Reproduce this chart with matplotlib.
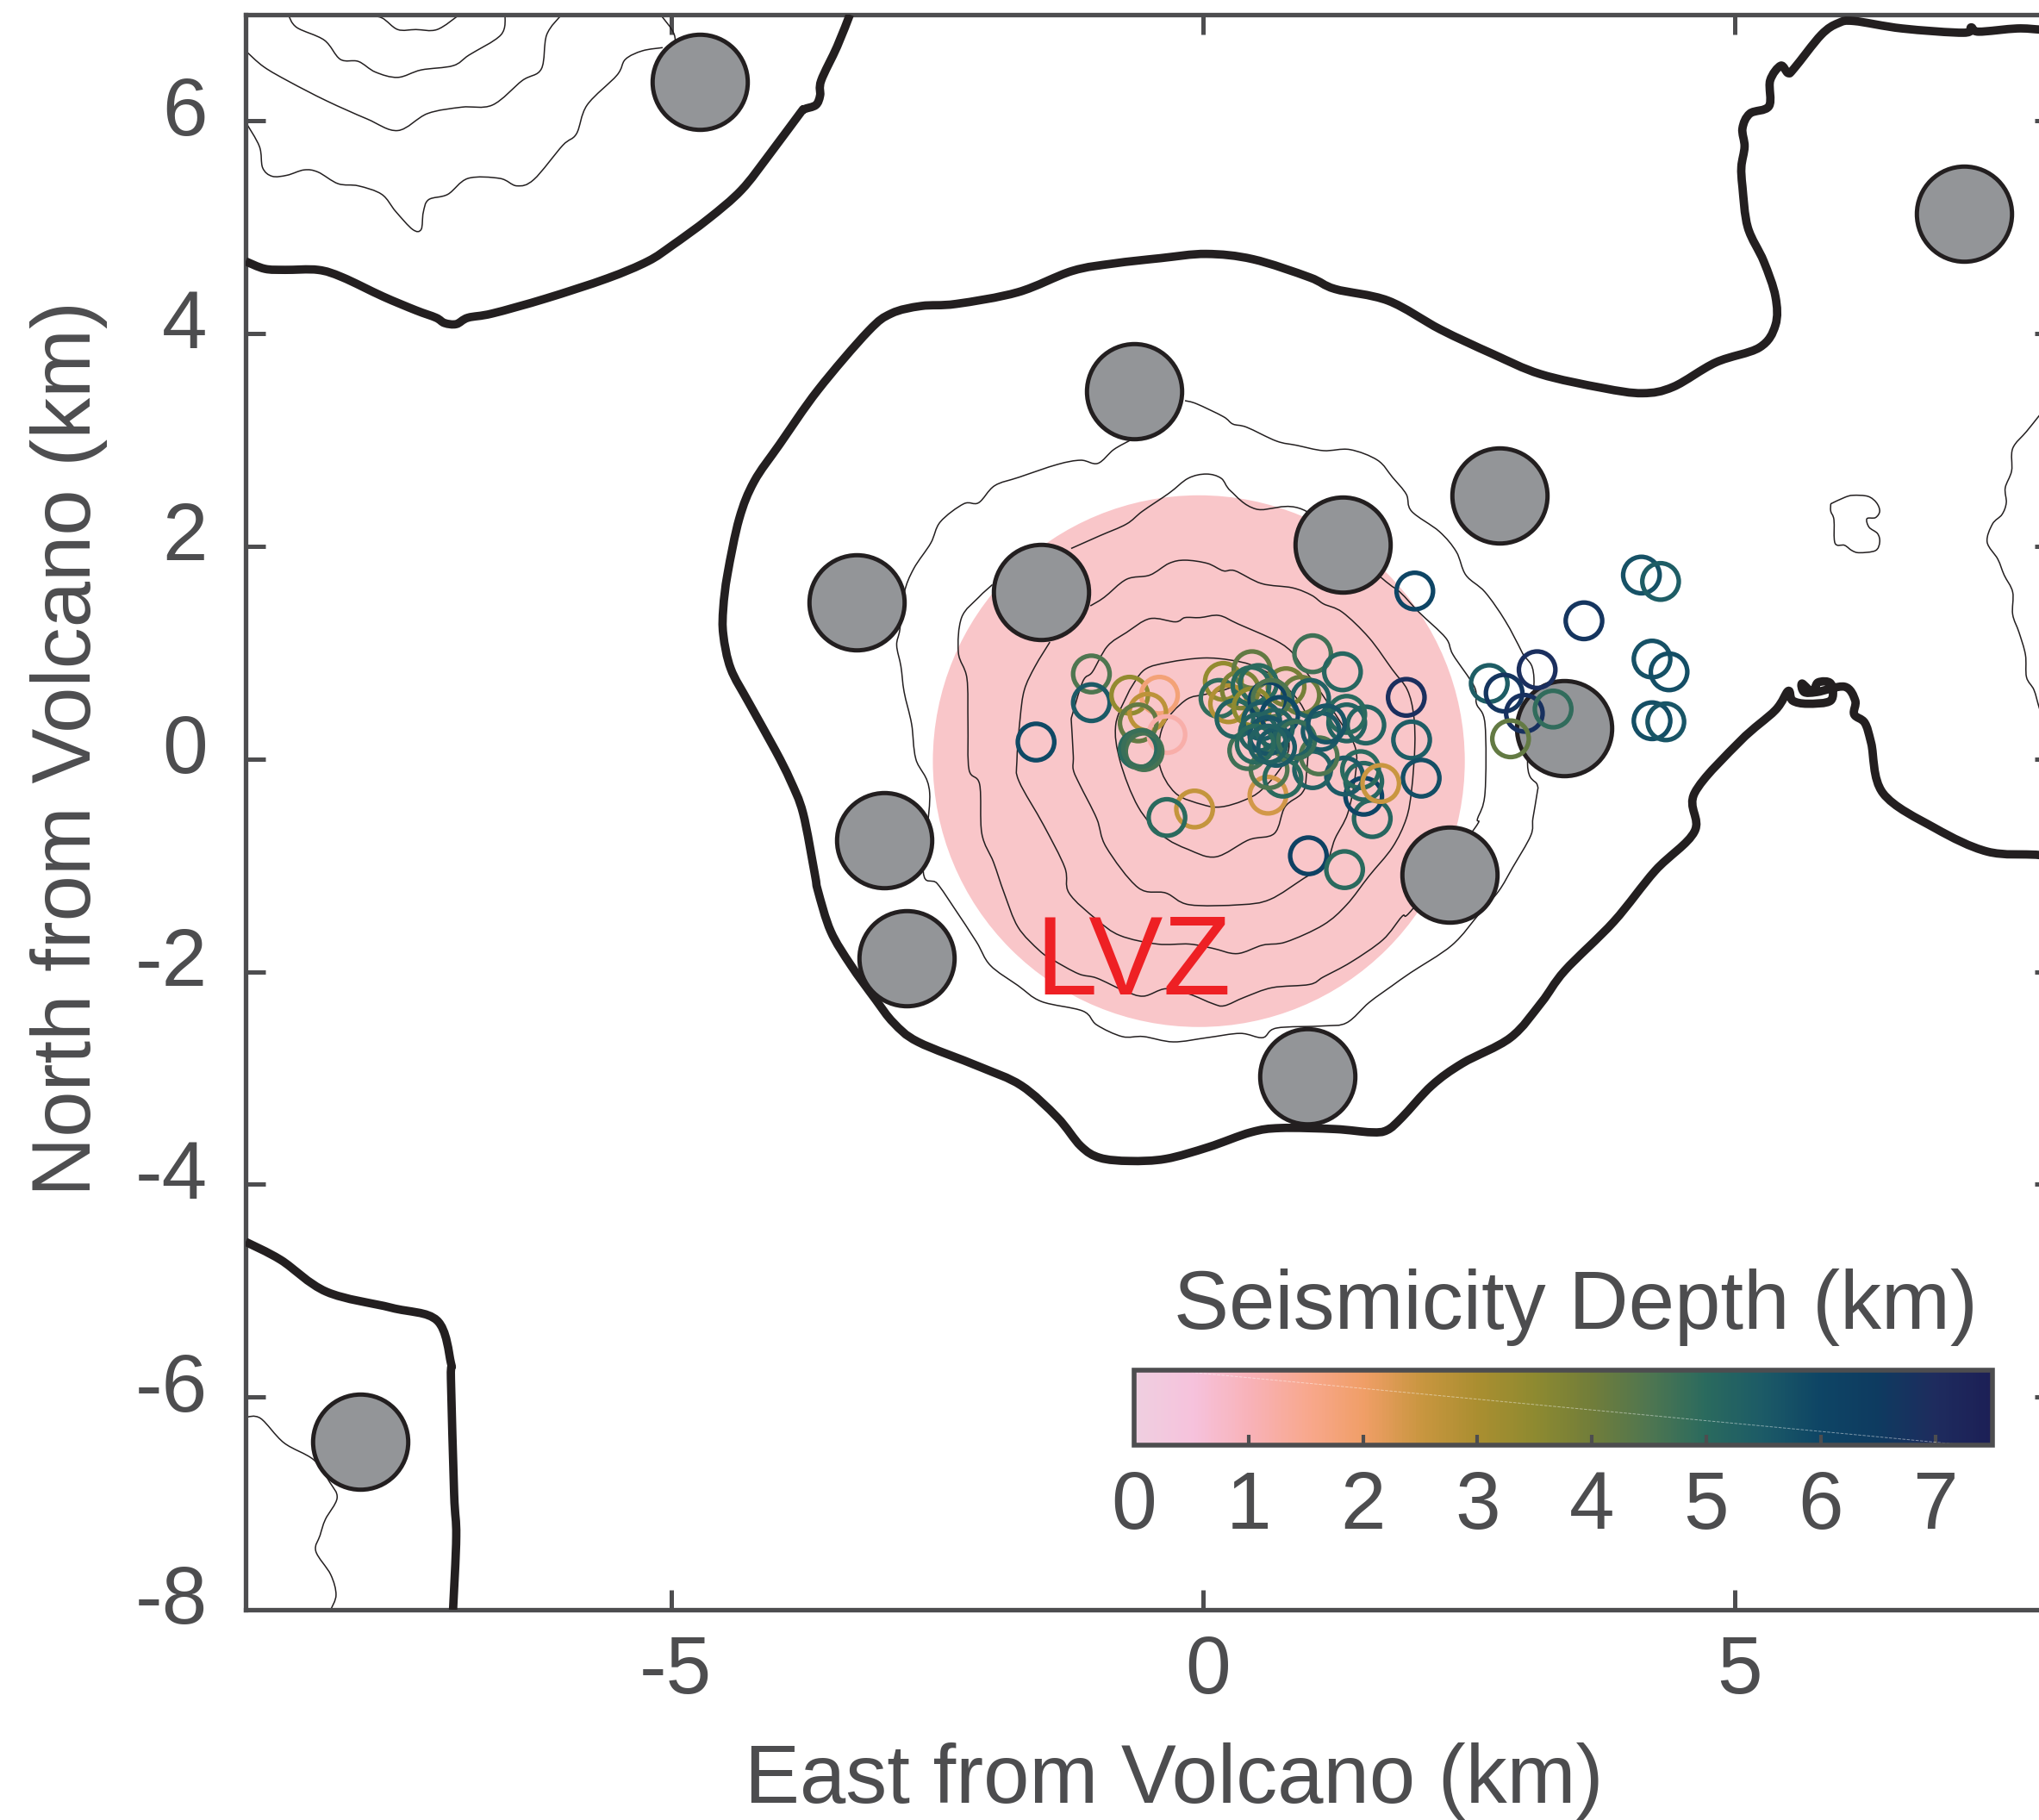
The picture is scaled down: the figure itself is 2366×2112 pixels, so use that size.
import matplotlib
matplotlib.use("Agg")
import matplotlib.pyplot as plt
from matplotlib.cm import ScalarMappable
from matplotlib.colors import LinearSegmentedColormap, Normalize
from matplotlib.patches import Circle, PathPatch
from matplotlib.path import Path
from matplotlib.transforms import ScaledTranslation

plt.rcParams["font.family"] = ["Liberation Sans", "DejaVu Sans"]
plt.rcParams["axes.unicode_minus"] = False

# stations (km east, km north)
station_x = [-4.73, 7.15, -0.65, 2.79, 1.31, -1.52, -3.26, 3.39, -3.00, 2.32, -2.79, 0.98, -7.92]
station_y = [6.37, 5.13, 3.46, 2.48, 2.02, 1.57, 1.47, 0.29, -0.76, -1.09, -1.87, -2.98, -6.42]

# seismicity: east, north, depth
event_x = [-1.57, -1.05, -1.05, -0.69, -0.41, -0.52, -0.61, -0.34, -0.61, -0.555, -0.58, -0.08, -0.34,
           0.61, 1.03, 1.31, 1.91, 1.96, 2.05, 1.99, 0.99, 1.33, 1.59, 1.51, 1.51, 1.48, 1.33, 1.53, 1.35,
           1.35, 1.03, 1.09, 1.11, 0.75, 0.62, 0.42, 0.92, 0.78, 1.01, 0.19, 0.46, 0.15, 0.24, 0.35, 0.30,
           0.45, 0.52, 0.46, 0.61, 0.64, 0.55, 0.72, 0.52, 0.67, 0.61, 0.84, 0.88, 1.16, 0.49, 0.69, 0.61,
           1.67, 2.69, 2.83, 3.14, 3.02, 3.29, 2.89, 3.58, 4.12, 4.30, 4.22, 4.38, 4.22, 4.35]
event_y = [0.16, 0.80, 0.53, 0.60, 0.60, 0.44, 0.34, 0.23, 0.09, 0.07, 0.10, -0.47, -0.55,
           -0.34, 0.99, 0.82, 0.58, 0.18, -0.18, 1.58, -0.91, -1.04, -0.56, -0.35, -0.21, -0.10, -0.16, 0.32, 0.34,
           0.42, -0.10, 0.03, 0.26, -0.18, -0.10, 0.08, 0.60, 0.68, 0.57, 0.73, 0.84, 0.57, 0.52, 0.65, 0.38,
           0.69, 0.71, 0.49, 0.55, 0.57, 0.36, 0.41, 0.25, 0.29, 0.22, 0.19, 0.18, 0.33, 0.14, 0.11, 0.14,
           -0.23, 0.71, 0.62, 0.84, 0.43, 0.47, 0.19, 1.30, 1.73, 1.67, 0.94, 0.82, 0.36, 0.35]
event_depth = [5.9, 4.5, 5.5, 3.4, 1.8, 2.7, 4.2, 1.2, 5.0, 4.6, 4.8, 2.6, 5.0,
               2.4, 4.7, 5.1, 6.9, 5.4, 5.8, 6.0, 6.2, 5.0, 5.1, 6.0, 5.1, 5.0, 5.5, 5.2, 5.2,
               5.0, 5.3, 4.5, 5.5, 5.0, 4.5, 4.7, 4.1, 3.9, 5.3, 3.4, 4.2, 4.9, 2.9, 3.8, 5.2,
               5.0, 5.0, 3.5, 6.1, 4.5, 5.4, 5.9, 5.2, 5.2, 5.6, 5.3, 4.8, 5.6, 5.0, 5.5, 5.3,
               2.5, 5.4, 6.7, 6.9, 6.8, 4.9, 4.2, 6.7, 5.7, 5.4, 5.7, 5.8, 5.8, 5.6]

# thick contours
main_x = [8.00, 7.83, 7.37, 6.88, 6.39, 6.28, 6.22, 6.12, 6.13, 6.03, 5.77, 5.65, 5.63, 5.73, 5.78, 5.90, 5.90, 5.68,
          5.54, 5.50, 5.38, 5.05, 4.62, 4.62, 4.25, 3.86, 3.40, 3.18, 2.89, 2.44, 2.15, 1.87, 1.73, 1.58, 1.24, 0.73, 0.45,
          0.05, -0.35, -0.69, -0.97, -1.15, -1.37, -1.71, -2.11, -2.68, -2.91, -3.08, -3.31, -3.50, -3.62, -3.65, -3.76,
          -3.88, -4.02, -4.27, -4.44, -4.51, -4.51, -4.47, -4.36, -4.22, -3.98, -3.62, -3.15, -2.93, -2.65, -2.32, -1.74,
          -1.23, -0.84, -0.40, 0.03, 0.47, 1.00, 1.24, 1.74, 2.23, 2.72, 3.17, 3.75, 4.13, 4.42, 4.82, 5.23, 5.38, 5.38,
          5.27, 5.12, 5.07, 5.06, 5.09, 5.07, 5.14, 5.32, 5.33, 5.43, 5.50, 5.56, 5.81, 5.97, 6.12, 6.57, 7.15, 7.22, 7.29,
          7.65, 7.86, 8.00]
main_y = [-0.92, -0.90, -0.87, -0.65, -0.32, 0.15, 0.34, 0.42, 0.55, 0.68, 0.63, 0.63, 0.71, 0.63, 0.72, 0.71, 0.55, 0.52,
          0.55, 0.64, 0.46, 0.17, -0.32, -0.68, -1.05, -1.53, -1.99, -2.29, -2.62, -2.86, -3.07, -3.37, -3.49, -3.51, -3.48,
          -3.47, -3.51, -3.65, -3.76, -3.78, -3.75, -3.64, -3.37, -3.07, -2.89, -2.66, -2.48, -2.26, -1.94, -1.62, -1.24,
          -1.08, -0.51, -0.20, 0.08, 0.53, 0.85, 1.17, 1.42, 1.74, 2.26, 2.61, 2.96, 3.47, 4.02, 4.19, 4.26, 4.28, 4.39,
          4.59, 4.66, 4.71, 4.75, 4.70, 4.53, 4.42, 4.31, 4.04, 3.81, 3.62, 3.49, 3.44, 3.50, 3.73, 3.87, 4.08, 4.35,
          4.68, 5.00, 5.38, 5.57, 5.76, 5.93, 6.07, 6.14, 6.38, 6.52, 6.45, 6.50, 6.81, 6.92, 6.94, 6.87, 6.83, 6.88, 6.84,
          6.87, 6.86, 6.85]
topleft_x = [-9.00, -8.82, -8.63, -8.32, -8.09, -7.71, -7.40, -7.21, -7.13, -7.02, -6.91, -6.68, -6.18, -5.60, -5.22,
             -4.99, -4.65, -4.34, -4.08, -3.79, -3.75, -3.64, -3.60, -3.59, -3.44, -3.32]
topleft_y = [4.68, 4.61, 4.60, 4.60, 4.53, 4.35, 4.22, 4.15, 4.10, 4.09, 4.15, 4.19, 4.33, 4.52, 4.68,
             4.83, 5.08, 5.35, 5.68, 6.07, 6.11, 6.15, 6.24, 6.38, 6.70, 7.00]
botleft_x = [-9.00, -8.67, -8.24, -7.63, -7.20, -7.07, -7.07, -7.04, -7.02, -7.05]
botleft_y = [-4.54, -4.71, -5.01, -5.16, -5.28, -5.68, -5.83, -6.91, -7.31, -8.00]

# thin contours
ring1_x = [0.20, 0.03, -0.17, -0.38, -0.41, -0.26, 0.00, 0.17, 0.38, 0.55, 0.75, 0.80, 0.60, 0.35, 0.20]
ring1_y = [0.65, 0.61, 0.55, 0.30, -0.05, -0.32, -0.43, -0.45, -0.39, -0.29, -0.05, 0.20, 0.55, 0.68, 0.65]
ring2_x = [-0.69, -0.55, -0.32, 0.00, 0.26, 0.49, 0.75, 0.98, 0.97, 0.93, 0.77, 0.67, 0.43, 0.12, -0.14, -0.38, -0.61, -0.78, -0.82, -0.69]
ring2_y = [0.65, 0.84, 0.91, 0.95, 0.93, 0.87, 0.71, 0.38, -0.16, -0.32, -0.45, -0.70, -0.76, -0.92, -0.85, -0.72, -0.45, -0.02, 0.33, 0.65]
ring3_x = [-1.24, -1.13, -1.04, -0.90, -0.72, -0.50, -0.26, -0.17, -0.03, 0.15, 0.33, 0.69, 0.84, 0.93, 1.07, 1.27, 1.43, 1.43,
           1.36, 1.24, 1.15, 0.95, 0.63, 0.35, -0.13, -0.35, -0.61, -0.91, -1.00, -1.16, -1.22, -1.22, -1.24]
ring3_y = [0.38, 0.73, 0.82, 1.06, 1.19, 1.32, 1.29, 1.33, 1.33, 1.35, 1.27, 1.11, 1.00, 0.87, 0.68, 0.38, 0.11, -0.16,
           -0.51, -0.75, -0.99, -1.12, -1.32, -1.37, -1.37, -1.26, -1.21, -0.83, -0.56, -0.24, -0.10, 0.03, 0.38]
ring4_x = [-1.44, -1.58, -1.68, -1.72, -1.75, -1.73, -1.50, -1.30, -1.26, -1.00, -0.78, -0.43, -0.13, 0.09, 0.32, 0.56, 0.78,
           1.13, 1.35, 1.56, 1.78, 1.91, 1.96, 1.99, 1.98, 1.92, 1.78, 1.56, 1.31, 1.13, 1.02, 0.84, 0.55, 0.30, 0.19, 0.04, -0.17,
           -0.32, -0.50, -0.72, -0.93, -1.06]
ring4_y = [1.10, 0.87, 0.65, 0.38, -0.02, -0.21, -0.62, -1.02, -1.26, -1.51, -1.66, -1.74, -1.74, -1.78, -1.83, -1.75, -1.72,
           -1.56, -1.37, -1.10, -0.83, -0.56, -0.29, 0.11, 0.41, 0.65, 0.84, 1.14, 1.38, 1.46, 1.54, 1.61, 1.65, 1.77, 1.77, 1.84, 1.87,
           1.84, 1.73, 1.69, 1.52, 1.44]
ring5_x = [-1.98, -2.11, -2.27, -2.30, -2.22, -2.21, -2.20, -2.10, -2.08, -1.97, -1.87, -1.74, -1.54, -1.41, -1.17, -1.00, -0.74, -0.56,
           -0.35, -0.13, 0.09, 0.20, 0.39, 0.65, 1.00, 1.13, 1.39, 1.69, 1.87, 1.97, 2.54, 2.58, 2.65, 2.65, 2.57, 2.55, 2.35, 2.28,
           2.03, 1.85, 1.67, 0.97, 0.50, 0.26, 0.17, 0.03, -0.14, -0.32, -0.57, -0.72, -0.97, -1.24]
ring5_y = [1.64, 1.52, 1.33, 1.00, 0.76, 0.33, -0.10, -0.24, -0.70, -0.97, -1.26, -1.58, -1.80, -1.89, -2.02, -2.06, -2.18, -2.23,
           -2.16, -2.21, -2.30, -2.32, -2.24, -2.15, -2.12, -2.05, -1.91, -1.70, -1.48, -1.41, -0.67, -0.56, -0.32, 0.33, 0.52, 0.68, 0.98, 1.14,
           1.38, 1.57, 1.71, 2.33, 2.35, 2.52, 2.64, 2.68, 2.64, 2.50, 2.33, 2.21, 2.10, 1.98]
ring6_x = [-0.17, -0.06, 0.19, 0.28, 0.41, 0.69, 0.88, 1.13, 1.38, 1.64, 1.78, 1.91, 1.96, 2.22, 2.38, 2.47, 2.65, 2.84, 3.00, 3.11,
           3.05, 3.14, 3.14, 3.10, 3.08, 2.91, 2.78, 2.60, 2.34, 1.95, 1.78, 1.56, 1.35, 1.13, 0.69, 0.56, 0.35, 0.04, -0.28, -0.56, -0.76,
           -1.00, -1.13, -1.52, -1.74, -2.00, -2.13, -2.34, -2.50, -2.63, -2.57, -2.70, -2.74, -2.81, -2.84, -2.88, -2.85, -2.81, -2.72,
           -2.56, -2.47, -2.25, -2.11, -1.96, -1.73, -1.37, -1.15, -0.99, -0.84, -0.68]
ring6_y = [3.37, 3.34, 3.22, 3.15, 3.12, 2.99, 2.95, 2.90, 2.91, 2.81, 2.65, 2.49, 2.33, 2.14, 1.95, 1.73, 1.57, 1.30, 1.00, 0.76,
           -0.05, -0.24, -0.32, -0.56, -0.72, -1.02, -1.24, -1.45, -1.75, -2.01, -2.13, -2.29, -2.48, -2.51, -2.53, -2.62, -2.58, -2.62, -2.66, -2.61, -2.61,
           -2.50, -2.37, -2.28, -2.13, -1.94, -1.72, -1.40, -1.17, -1.06, -0.32, 0.00, 0.33, 0.63, 0.87, 1.07, 1.22, 1.56, 1.79,
           2.03, 2.23, 2.40, 2.41, 2.57, 2.65, 2.77, 2.81, 2.78, 2.91, 3.00]
tl_a_x = [-7.88, -7.72, -7.57, -7.40, -7.20, -6.99]
tl_a_y = [7.00, 6.97, 6.86, 6.86, 6.86, 7.00]
tl_b_x = [-8.60, -8.52, -8.26, -8.11, -7.94, -7.78, -7.57, -7.35, -7.05, -6.90, -6.60, -6.56]
tl_b_y = [7.00, 6.88, 6.76, 6.58, 6.56, 6.46, 6.41, 6.48, 6.52, 6.62, 6.81, 7.00]
tl_c_x = [-9.00, -8.83, -8.59, -8.24, -7.86, -7.57, -7.29, -6.97, -6.68, -6.40, -6.22, -6.17, -6.03]
tl_c_y = [6.66, 6.51, 6.37, 6.19, 6.02, 5.91, 6.07, 6.13, 6.15, 6.38, 6.49, 6.81, 7.00]
tl_d_x = [-9.00, -8.87, -8.84, -8.75, -8.61, -8.45, -8.32, -8.13, -7.94, -7.72, -7.59, -7.43, -7.35, -7.33, -7.28, -7.10,
          -6.91, -6.61, -6.45, -6.29, -6.02, -5.89, -5.79, -5.51, -5.43, -5.27, -5.08]
tl_d_y = [5.99, 5.76, 5.56, 5.48, 5.49, 5.54, 5.52, 5.41, 5.39, 5.31, 5.15, 4.98, 4.98, 5.14, 5.26, 5.31,
          5.46, 5.46, 5.39, 5.45, 5.77, 5.88, 6.15, 6.43, 6.58, 6.66, 6.69]
tl_e_x = [-5.10, -4.97, -4.97]
tl_e_y = [7.00, 6.81, 6.60]
bl_x = [-9.00, -8.86, -8.64, -8.36, -8.21, -8.14, -8.25, -8.30, -8.34, -8.20, -8.15, -8.20]
bl_y = [-6.19, -6.20, -6.43, -6.59, -6.80, -6.95, -7.15, -7.30, -7.45, -7.67, -7.86, -8.00]
loop_x = [5.90, 6.03, 6.11, 6.25, 6.33, 6.36, 6.32, 6.24, 6.26, 6.34, 6.36, 6.32, 6.17, 6.10, 6.03, 5.94, 5.93, 5.90, 5.90]
loop_y = [2.40, 2.46, 2.48, 2.47, 2.41, 2.33, 2.27, 2.26, 2.18, 2.12, 2.04, 1.96, 1.94, 1.96, 2.01, 2.03, 2.25, 2.33, 2.40]
east_x = [7.95, 7.86, 7.74, 7.61, 7.60, 7.54, 7.55, 7.51, 7.42, 7.37, 7.47, 7.53, 7.61, 7.61, 7.67, 7.73, 7.74, 7.81, 7.86, 7.92]
east_y = [3.35, 3.23, 3.08, 2.92, 2.71, 2.55, 2.41, 2.30, 2.21, 2.04, 1.88, 1.73, 1.57, 1.36, 1.19, 0.98, 0.77, 0.65, 0.48, 0.30]

thin_lines = [(ring1_x, ring1_y), (ring2_x, ring2_y), (ring3_x, ring3_y), (ring4_x, ring4_y), (ring5_x, ring5_y),
              (ring6_x, ring6_y), (tl_a_x, tl_a_y), (tl_b_x, tl_b_y), (tl_c_x, tl_c_y), (tl_d_x, tl_d_y),
              (tl_e_x, tl_e_y), (bl_x, bl_y), (loop_x, loop_y), (east_x, east_y)]
thick_lines = [(main_x, main_y), (topleft_x, topleft_y), (botleft_x, botleft_y)]

# colour scale
cmap_depths = [0, 0.5, 1, 1.5, 2, 2.5, 3, 3.5, 4, 4.5, 5, 5.5, 6, 6.5, 7, 7.5]
cmap_colors = ["#EFCFE0", "#F6C2DC", "#F8B2B8", "#F8A88E", "#F09E67", "#C99640", "#AA8E30", "#8E8A30",
               "#717D3A", "#4F7650", "#2A6A5E", "#1C5A66", "#0E4565", "#0E3B60", "#1E2C5E", "#1C1F56"]
cb_ticks = [0, 1, 2, 3, 4, 5, 6, 7]
x_ticks = [-5, 0, 5]
y_ticks = [-8, -6, -4, -2, 0, 2, 4, 6]

W, H = 2366, 2112
GRAY = "#4D4D4F"
DARK = "#231F20"
FS = 68


def smooth(xs, ys):
    # curve through the read points, the contours are not polygons
    pts = list(zip(xs, ys))
    verts = [pts[0]]
    codes = [Path.MOVETO]
    for i in range(len(pts) - 1):
        p0 = pts[max(i - 1, 0)]
        p1 = pts[i]
        p2 = pts[i + 1]
        p3 = pts[min(i + 2, len(pts) - 1)]
        verts.append((p1[0] + (p2[0] - p0[0]) / 6, p1[1] + (p2[1] - p0[1]) / 6))
        verts.append((p2[0] - (p3[0] - p1[0]) / 6, p2[1] - (p3[1] - p1[1]) / 6))
        verts.append(p2)
        codes += [Path.CURVE4] * 3
    return Path(verts, codes)


cmap = LinearSegmentedColormap.from_list("depth", [(d / 7.5, c) for d, c in zip(cmap_depths, cmap_colors)])
norm = Normalize(0, 7.5)

fig = plt.figure(figsize=(W / 100, H / 100), dpi=100)
ax = fig.add_axes([285 / W, 1 - 1868 / H, (2383.6 - 285) / W, (1868 - 17) / H])
ax.set_xlim(-9, 8)
ax.set_ylim(-8, 7)

ax.add_patch(Circle((-0.04, -0.02), 2.5, facecolor="#F9C6C9", edgecolor="none", zorder=1))
for xs, ys in thin_lines:
    ax.add_patch(PathPatch(smooth(xs, ys), fill=False, edgecolor=DARK, lw=1.1, zorder=2))
for xs, ys in thick_lines:
    ax.add_patch(PathPatch(smooth(xs, ys), fill=False, edgecolor=DARK, lw=7, joinstyle="round", zorder=3))
ax.scatter(station_x, station_y, s=79.5 ** 2, facecolor="#939598", edgecolor=DARK, linewidths=3.6, zorder=4)
ax.scatter(event_x, event_y, s=30.5 ** 2, facecolors="none", edgecolors=cmap(norm(event_depth)), linewidths=3.8, zorder=5)
ax.text(-1.58, -2.21, "LVZ", color="#EE2024", fontsize=93, ha="left", va="baseline", zorder=6)

ax.set_xticks(x_ticks)
ax.set_yticks(y_ticks)
ax.tick_params(direction="in", length=16.5, width=3.6, color=GRAY, labelcolor=GRAY, labelsize=FS,
               top=True, right=True, pad=32)
ax.tick_params(axis="x", pad=20)
# labels sit a little off their ticks in the original
for lab in ax.get_yticklabels():
    lab.set_transform(lab.get_transform() + ScaledTranslation(0, 13 / 72, fig.dpi_scale_trans))
for lab in ax.get_xticklabels():
    lab.set_transform(lab.get_transform() + ScaledTranslation(4 / 72, 0, fig.dpi_scale_trans))
for s in ax.spines.values():
    s.set_color(GRAY)
    s.set_linewidth(3.8)

fig.text(1362 / W, 1 - 2092 / H, "East from Volcano (km)", color=GRAY, fontsize=FS + 1, ha="center", va="baseline")
fig.text(80 / W, 1 - 868 / H, "North from Volcano (km)", color=GRAY, fontsize=FS + 1, rotation=90,
         ha="center", va="center", rotation_mode="anchor")
fig.text(1828 / W, 1 - 1542 / H, "Seismicity Depth (km)", color=GRAY, fontsize=FS + 1, ha="center", va="baseline")

cax = fig.add_axes([1316 / W, 1 - 1677 / H, (2312 - 1316) / W, (1677 - 1590) / H])
cb = fig.colorbar(ScalarMappable(norm=norm, cmap=cmap), cax=cax, orientation="horizontal")
cb.set_ticks(cb_ticks)
cb.outline.set_edgecolor(GRAY)
cb.outline.set_linewidth(4)
cax.tick_params(direction="in", length=9, width=3, color=GRAY, labelcolor=GRAY, labelsize=FS, pad=20)
cax.plot([0.04, 0.97], [1, 0], transform=cax.transAxes, color="white", alpha=0.45, lw=0.7, ls="--")

fig.savefig("out.png", dpi=100)
